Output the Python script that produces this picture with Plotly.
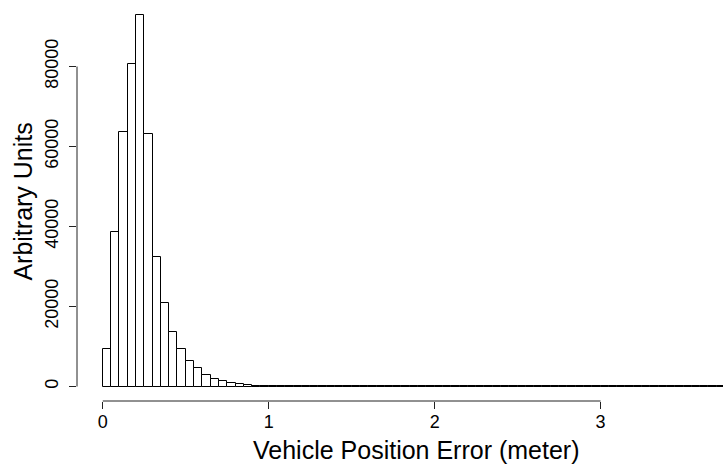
import numpy as np
import plotly.graph_objects as go

# Histogram of vehicle position error, bin width 0.05 m
bin_width = 0.05
counts = [
    9290, 38640, 63600, 80680, 92800, 63200, 32500, 21000, 13530, 9290,
    6370, 4700, 2870, 1870, 1370, 800, 620, 370, 200, 120,
    80, 60, 48, 40, 34, 29, 25, 22, 20, 18,
    17, 16, 15, 14, 14, 13, 13, 12, 12, 11,
    11, 10, 10, 10, 9, 9, 9, 8, 8, 8,
    8, 7, 7, 7, 7, 7, 6, 6, 6, 6,
    6, 6, 5, 5, 5, 5, 5, 5, 5, 5,
    5, 5, 5, 5, 5, 5,
]
bin_left = np.arange(len(counts)) * bin_width
bin_center = bin_left + bin_width / 2

x_ticks = [0, 1, 2, 3]
x_tick_labels = ["0", "1", "2", "3"]
y_ticks = [0, 20000, 40000, 60000, 80000]
y_tick_labels = ["0", "20000", "40000", "60000", "80000"]

x_title = "Vehicle Position Error (meter)"
y_title = "Arbitrary Units"

FONT = "Liberation Sans, Arial, Helvetica, sans-serif"

fig = go.Figure()
fig.add_trace(go.Bar(
    x=bin_center,
    y=counts,
    width=bin_width,
    marker=dict(color="white", line=dict(color="black", width=1)),
    hoverinfo="x+y",
))

fig.update_layout(
    width=723,
    height=465,
    margin=dict(l=77, r=0, t=10, b=64, autoexpand=False),
    paper_bgcolor="white",
    plot_bgcolor="white",
    showlegend=False,
    bargap=0,
    font=dict(family=FONT, color="black", size=18),
    xaxis=dict(
        range=[-0.1554, 3.738],
        tickvals=x_ticks,
        ticktext=x_tick_labels,
        ticks="outside",
        ticklen=7,
        tickwidth=1,
        tickcolor="#222",
        showgrid=False,
        zeroline=False,
        showline=False,
        automargin=False,
        tickfont=dict(size=18),
        ticklabelstandoff=-3,
    ),
    yaxis=dict(
        range=[-3625, 94125],
        tickvals=y_ticks,
        ticktext=y_tick_labels,
        tickangle=-90,
        ticks="outside",
        ticklen=7,
        tickwidth=1,
        tickcolor="#222",
        showgrid=False,
        zeroline=False,
        showline=False,
        automargin=False,
        tickfont=dict(size=18),
        ticklabelstandoff=4,
    ),
    shapes=[
        dict(type="line", xref="x", yref="paper", x0=x_ticks[0], x1=x_ticks[-1], y0=0, y1=0,
             line=dict(color="#222", width=1)),
        dict(type="line", xref="paper", yref="y", x0=0, x1=0, y0=y_ticks[0], y1=y_ticks[-1],
             line=dict(color="#222", width=1)),
    ],
    annotations=[
        dict(text=x_title, xref="paper", yref="paper", x=0.526, y=-0.125,
             xanchor="center", yanchor="middle", showarrow=False, font=dict(size=25)),
        dict(text=y_title, xref="paper", yref="paper", x=-0.0836, y=0.51, textangle=-90,
             xanchor="center", yanchor="middle", showarrow=False, font=dict(size=25)),
    ],
)

fig.write_html(
    "out.html",
    config={"displayModeBar": False},
    post_script="document.body.style.margin='0';document.body.style.overflow='hidden';",
)
